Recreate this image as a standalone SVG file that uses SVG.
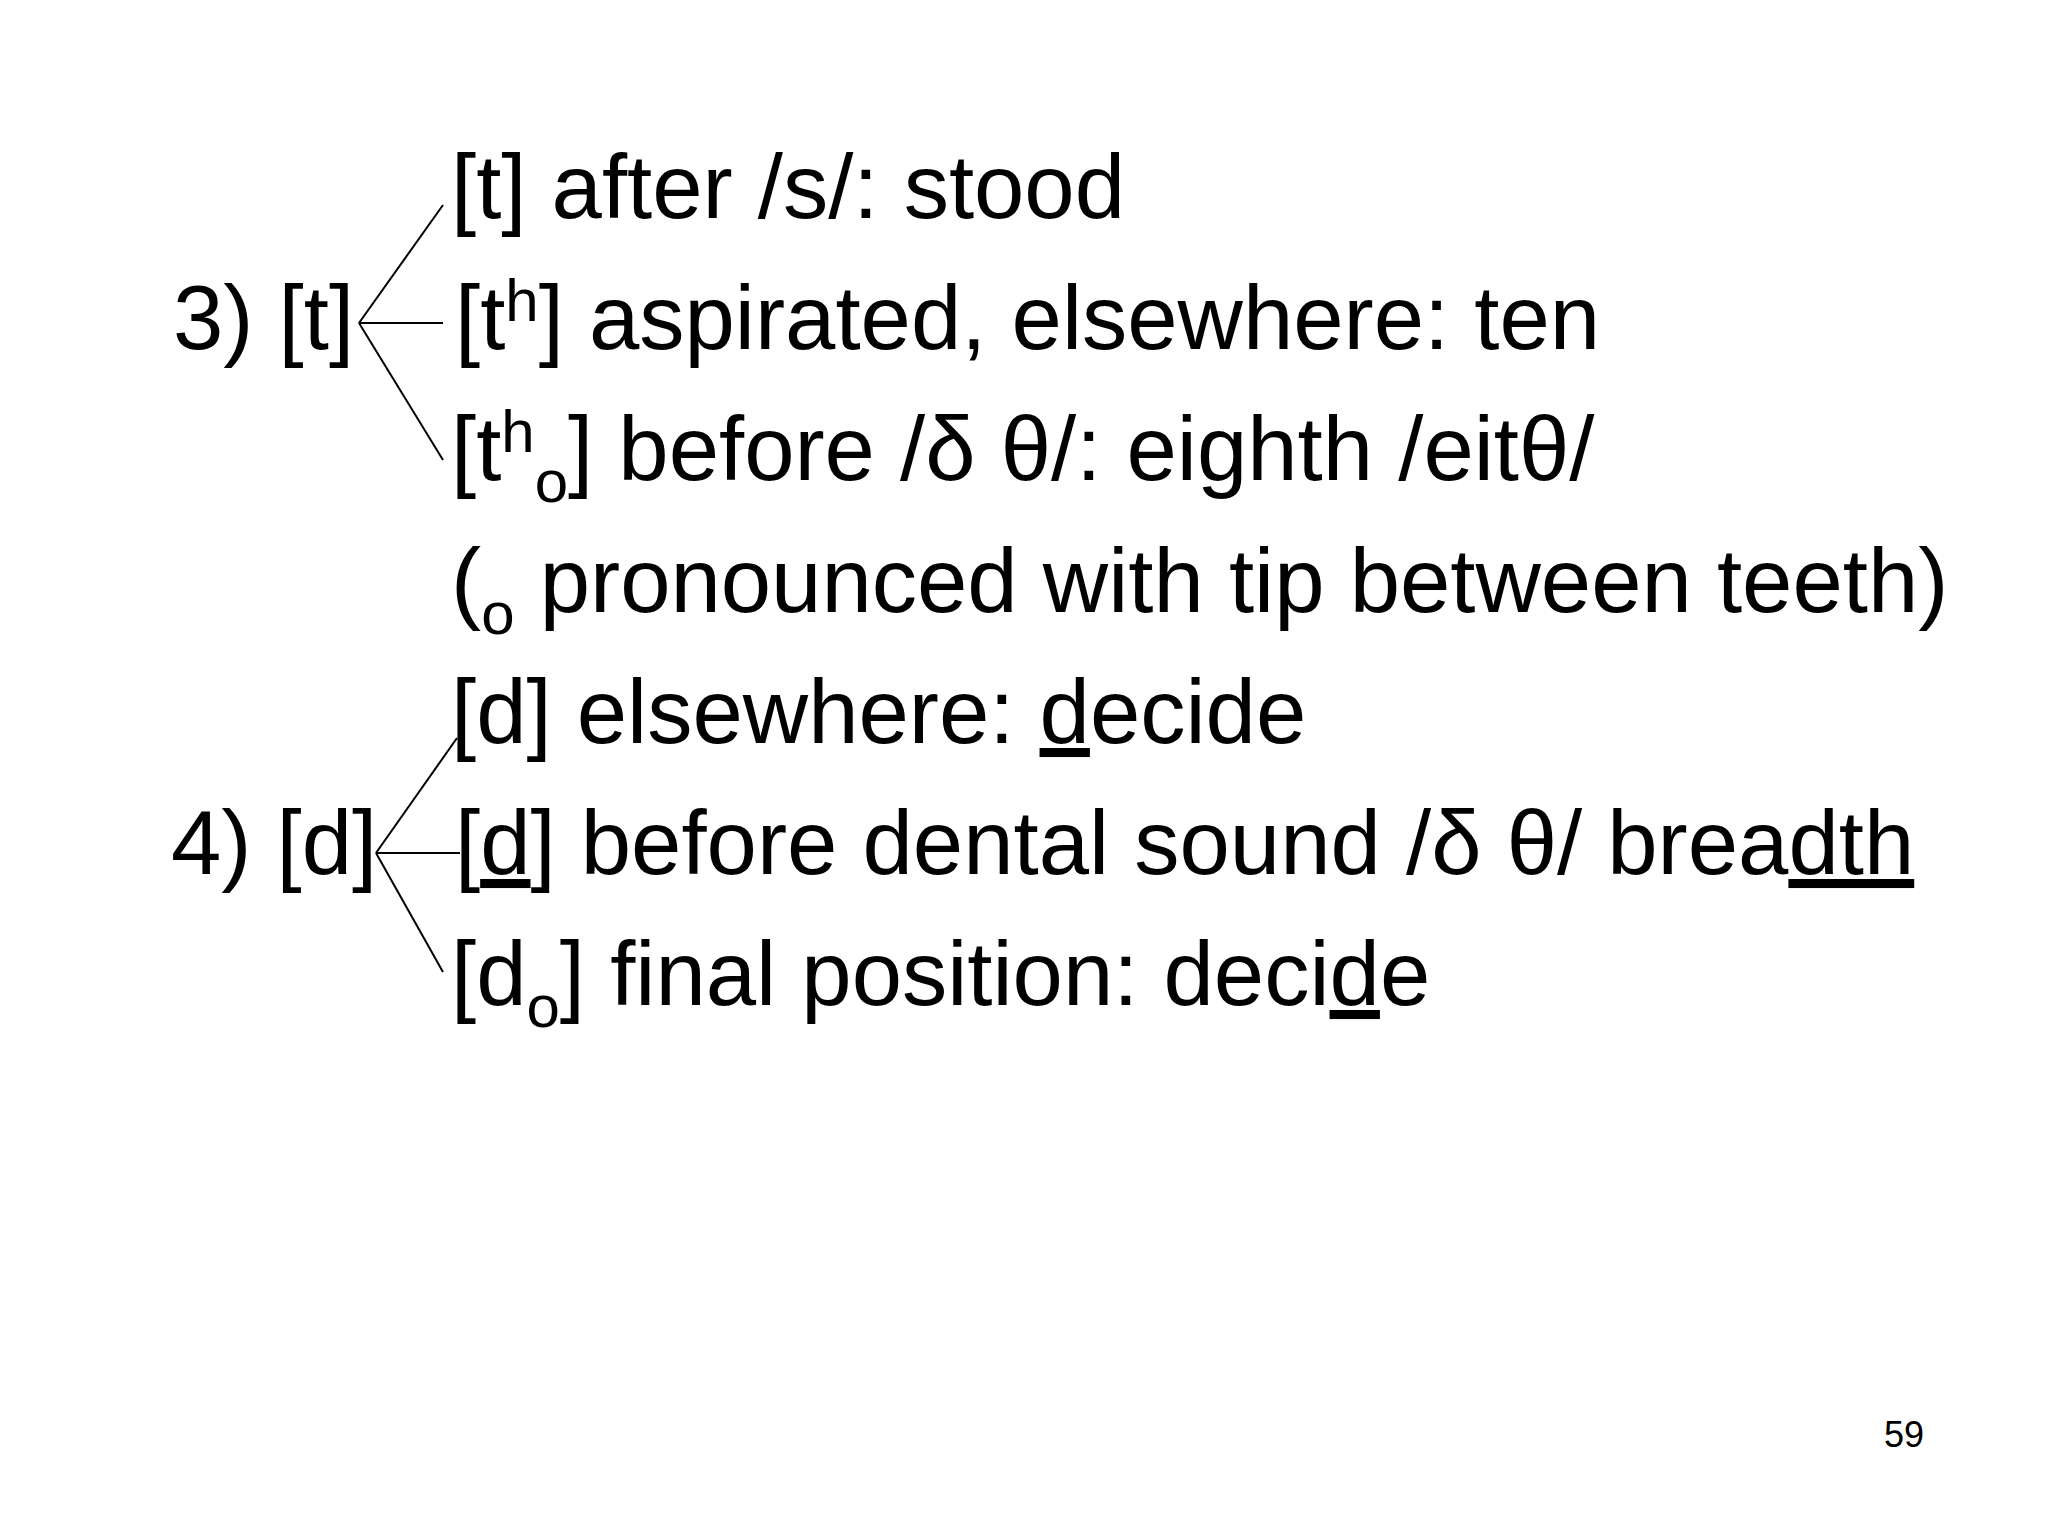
<svg xmlns="http://www.w3.org/2000/svg" width="2048" height="1536" viewBox="0 0 2048 1536">
<style>
.t{font-family:"Liberation Sans",Arial,sans-serif;font-size:90.5px;fill:#000}
.s{font-size:60px}
.u{text-decoration:underline}
.c{stroke:#000;stroke-width:2;fill:none}
.n{font-family:"Liberation Sans",Arial,sans-serif;font-size:36px;fill:#000}
</style>
<rect width="2048" height="1536" fill="#fff"/>
<g id="connectors">
<line class="c" x1="359" y1="323" x2="443" y2="205"/>
<line class="c" x1="359" y1="323" x2="443" y2="323"/>
<line class="c" x1="359" y1="323" x2="443" y2="460"/>
<line class="c" x1="376" y1="853" x2="457" y2="738"/>
<line class="c" x1="376" y1="853" x2="460" y2="853"/>
<line class="c" x1="376" y1="853" x2="443" y2="972"/>
</g>
<g id="node-3t"><text class="t" x="173" y="349">3) [t]</text></g>
<g id="node-4d"><text class="t" x="171" y="874">4) [d]</text></g>
<g id="line-t1"><text class="t" x="451" y="218">[t] after /s/: stood</text></g>
<g id="line-t2"><text class="t" x="455" y="349">[t<tspan class="s" dy="-28">h</tspan><tspan dy="28">] aspirated, elsewhere: ten</tspan></text></g>
<g id="line-t3"><text class="t" x="451" y="480">[t<tspan class="s" dy="-28">h</tspan><tspan class="s" dy="50">o</tspan><tspan dy="-22">] before /δ θ/: eighth /eitθ/</tspan></text></g>
<g id="line-note"><text class="t" x="451" y="612">(<tspan class="s" dy="22">o</tspan><tspan dy="-22"> pronounced with tip between teeth)</tspan></text></g>
<g id="line-d1"><text class="t" x="451" y="743">[d] elsewhere: <tspan class="u">d</tspan>ecide</text></g>
<g id="line-d2"><text class="t" x="455" y="874">[<tspan class="u">d</tspan>] before dental sound /δ θ/ brea<tspan class="u">dth</tspan></text></g>
<g id="line-d3"><text class="t" x="451" y="1005">[d<tspan class="s" dy="22">o</tspan><tspan dy="-22">] final position: deci</tspan><tspan class="u">d</tspan>e</text></g>
<text class="n" x="1924" y="1447" text-anchor="end">59</text>
</svg>
